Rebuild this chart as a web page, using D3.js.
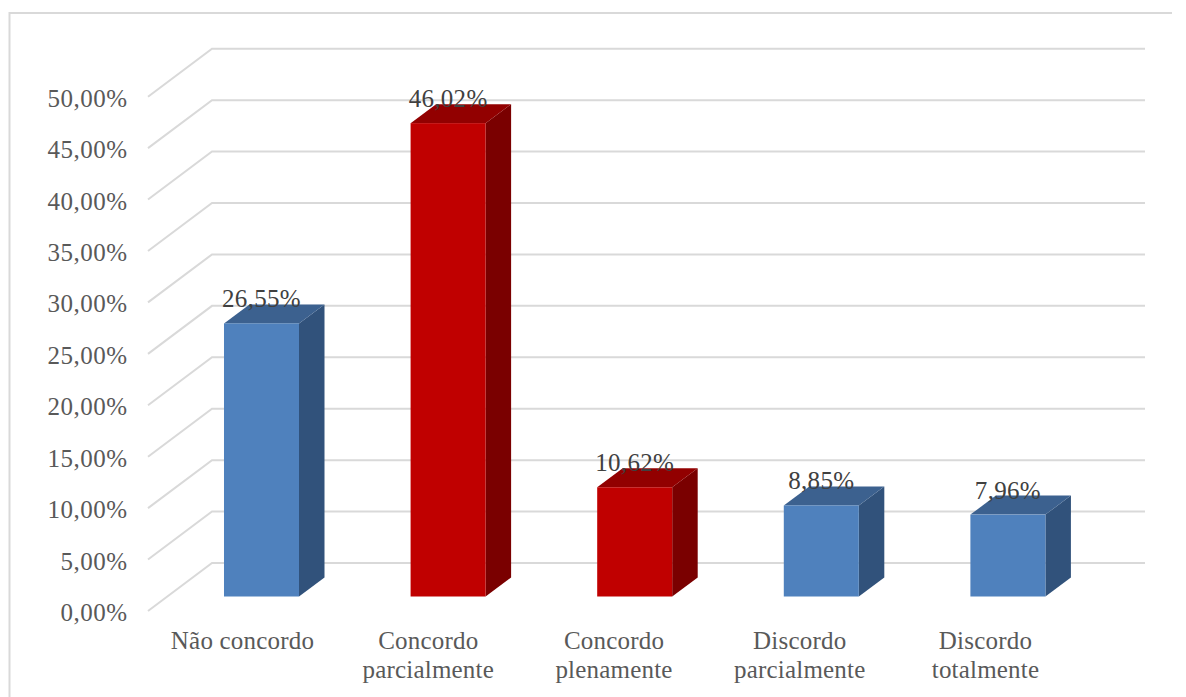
<!DOCTYPE html>
<html lang="pt">
<head>
<meta charset="utf-8">
<script src="https://cdn.jsdelivr.net/npm/d3@7"></script>
<style>
  html, body { margin: 0; padding: 0; background: #fff; }
  text { font-family: "Liberation Serif", serif; }
</style>
</head>
<body>
<svg id="chart" width="1186" height="697"></svg>
<script>
const categories = [
  ["Não concordo"],
  ["Concordo", "parcialmente"],
  ["Concordo", "plenamente"],
  ["Discordo", "parcialmente"],
  ["Discordo", "totalmente"]
];
const shareValues = [26.55, 46.02, 10.62, 8.85, 7.96];
const highlighted = [false, true, true, false, false];
const tickValues = [0, 5, 10, 15, 20, 25, 30, 35, 40, 45, 50];

const svg = d3.select("#chart");
const fmt = v => v.toFixed(2).replace(".", ",") + "%";

const palette = {
  blue: { front: "#4f81bd", top: "#3c618f", side: "#31527b" },
  red: { front: "#c00000", top: "#920000", side: "#7a0000" }
};

// Height scale measured on the front plane of the bars.
const perUnit = 10.286;
const barBase = 596.5;
const y = d3.scaleLinear().domain([0, 50]).range([barBase, barBase - 50 * perUnit]);
const x = d3.scaleBand()
  .domain(d3.range(categories.length))
  .range([168.2, 1101.2])
  .paddingInner(0.598)
  .paddingOuter(0.299);
// Category captions sit on the floor's front edge, left of the bars.
const captionX = d3.scalePoint()
  .domain(d3.range(categories.length))
  .range([242.5, 985.5]);

const wall = { dx: 63.5, dy: -33.5 };
const floor = { dx: 64, dy: 48 };
const barDepth = { dx: 25.5, dy: -19 };

// Outer frame
svg.append("path")
  .attr("d", "M1172,13H9.5V697")
  .attr("fill", "none").attr("stroke", "#d9d9d9").attr("stroke-width", 2);

// Gridlines: a slanted run on the side wall, then across the back wall.
const grid = svg.append("g").attr("fill", "none").attr("stroke", "#d9d9d9").attr("stroke-width", 2);
tickValues.forEach(t => {
  const back = y(t) + wall.dy;
  grid.append("path")
    .attr("d", `M148,${back + floor.dy}L212,${back}H1145`);
});

// Value axis labels
svg.append("g").selectAll("text").data(tickValues).join("text")
  .attr("x", 127.5)
  .attr("y", t => y(t) + wall.dy + floor.dy + 10)
  .attr("text-anchor", "end")
  .attr("font-size", 25)
  .attr("letter-spacing", 0.5)
  .attr("fill", "#595959")
  .text(fmt);

// Bars as three faces each
const bars = svg.append("g").selectAll("g").data(shareValues).join("g");
bars.each(function (v, i) {
  const g = d3.select(this);
  const colors = highlighted[i] ? palette.red : palette.blue;
  const l = x(i), r = l + x.bandwidth(), t = y(v), b = y(0);
  const { dx, dy } = barDepth;
  g.append("path").attr("fill", colors.side)
    .attr("d", `M${r},${t}L${r + dx},${t + dy}V${b + dy}L${r},${b}Z`);
  g.append("path").attr("fill", colors.top)
    .attr("d", `M${l},${t}L${l + dx},${t + dy}H${r + dx}L${r},${t}Z`);
  g.append("rect").attr("fill", colors.front)
    .attr("x", l).attr("y", t).attr("width", x.bandwidth()).attr("height", b - t);
});

// Value labels sitting on the bar tops
svg.append("g").selectAll("text").data(shareValues).join("text")
  .attr("x", (v, i) => x(i) + x.bandwidth() / 2)
  .attr("y", v => y(v) - 16)
  .attr("text-anchor", "middle")
  .attr("font-size", 25)
  .attr("letter-spacing", 0.3)
  .attr("fill", "#404040")
  .text(fmt);

// Category labels
const cats = svg.append("g").selectAll("text").data(categories).join("text")
  .attr("text-anchor", "middle")
  .attr("font-size", 25)
  .attr("letter-spacing", 0.2)
  .attr("fill", "#595959");
cats.selectAll("tspan").data((d, i) => d.map((line, k) => ({ line, k, i }))).join("tspan")
  .attr("x", d => captionX(d.i))
  .attr("y", d => 649 + d.k * 29)
  .text(d => d.line);
</script>
</body>
</html>
